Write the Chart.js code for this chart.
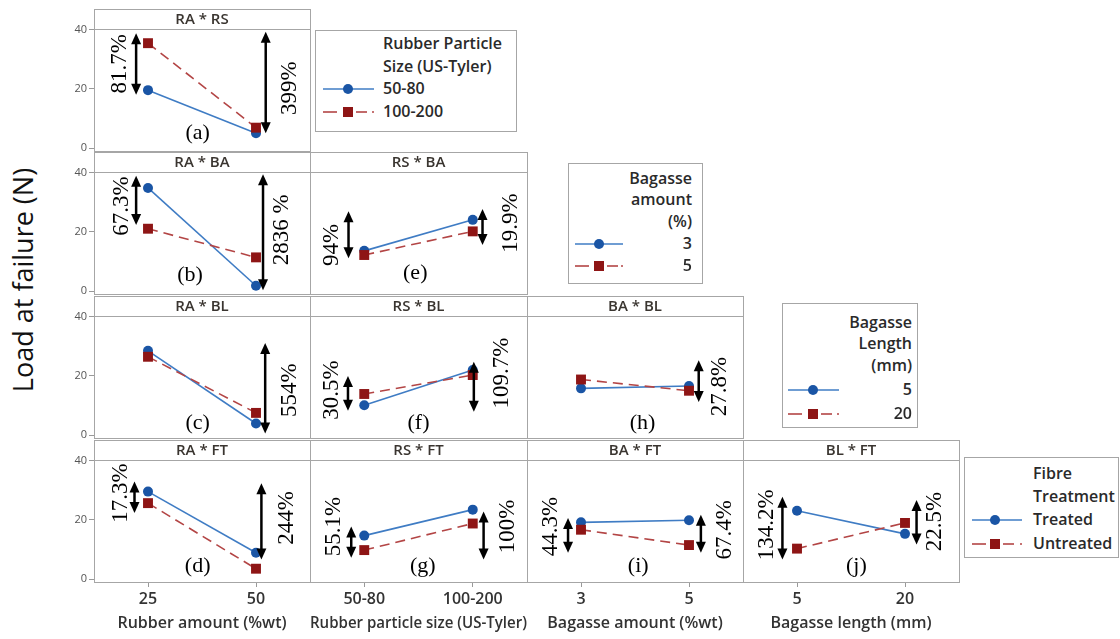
<!DOCTYPE html>
<html><head><meta charset="utf-8">
<script src="https://cdn.jsdelivr.net/npm/chart.js@4.4.1/dist/chart.umd.min.js"></script>
<style>
body{margin:0;background:#fff;}
#wrap{position:relative;width:1120px;height:639px;overflow:hidden;font-family:"Open Sans",sans-serif;background:#fff;}
#wrap canvas{position:absolute;}
.leg{position:absolute;border:1px solid #a6a6a6;background:#fff;box-sizing:border-box;}
.lt{position:absolute;font:600 16px "Open Sans",sans-serif;color:#2a2a2a;white-space:nowrap;transform:translateY(-50%);line-height:1;}
#ytitle{position:absolute;left:22px;top:280px;transform:translate(-50%,-50%) rotate(-90deg);font:400 27px "Open Sans",sans-serif;white-space:nowrap;color:#111;}
#samples{position:absolute;left:0;top:0;pointer-events:none;}
</style></head><body><div id="wrap"><div id="ytitle">Load at failure (N)</div></div>
<script>
// ---------- categories ----------
const catRA = ['25', '50'];
const catRS = ['50-80', '100-200'];
const catBA = ['3', '5'];
const catBL = ['5', '20'];
const yTicks = [0, 20, 40];
const xTitles = ['Rubber amount (%wt)', 'Rubber particle size (US-Tyler)', 'Bagasse amount (%wt)', 'Bagasse length (mm)'];

// ---------- series values (Load at failure, N) ----------
const a_RS_50_80 = [19.6, 5.0];
const a_RS_100_200 = [35.5, 6.9];
const b_BA_3 = [34.9, 1.8];
const b_BA_5 = [21.1, 11.4];
const e_BA_3 = [13.6, 24.1];
const e_BA_5 = [12.2, 20.2];
const c_BL_5 = [28.5, 3.9];
const c_BL_20 = [26.5, 7.5];
const f_BL_5 = [10.1, 22.0];
const f_BL_20 = [13.9, 20.3];
const h_BL_5 = [15.8, 16.6];
const h_BL_20 = [18.8, 15.0];
const d_FT_treated = [29.6, 8.9];
const d_FT_untreated = [25.7, 3.5];
const g_FT_treated = [14.7, 23.5];
const g_FT_untreated = [9.8, 18.8];
const i_FT_treated = [19.2, 19.9];
const i_FT_untreated = [16.7, 11.5];
const j_FT_treated = [23.1, 15.3];
const j_FT_untreated = [10.3, 19.0];

// ---------- percentage annotations: [x (category index), yTop, yBottom, label, labelX, labelY] ----------
const notes_a = [[-0.11, 38.9, 18.0, '81.7%', -0.26, 28.5], [1.09, 39.4, 5.0, '399%', 1.31, 20.3]];
const notes_b = [[-0.11, 39.0, 22.4, '67.3%', -0.24, 28.8], [1.065, 39.5, 0.3, '2836 %', 1.24, 20.7]];
const notes_e = [[-0.145, 27.0, 11.1, '94%', -0.30, 15.6], [1.09, 27.8, 15.6, '19.9%', 1.35, 23.0]];
const notes_c = [[1.085, 31.2, 0.5, '554%', 1.31, 15.2]];
const notes_f = [[-0.15, 20.0, 8.2, '30.5%', -0.30, 15.2], [1.01, 24.8, 7.9, '109.7%', 1.27, 21.0]];
const notes_h = [[1.09, 25.3, 11.2, '27.8%', 1.29, 16.4]];
const notes_d = [[-0.125, 33.0, 22.4, '17.3%', -0.25, 29.1], [1.05, 32.4, 6.6, '244%', 1.29, 20.7]];
const notes_g = [[-0.12, 17.8, 7.2, '55.1%', -0.28, 17.8], [1.10, 22.9, 6.6, '100%', 1.32, 17.8]];
const notes_i = [[-0.12, 20.7, 8.9, '44.3%', -0.28, 17.8], [1.11, 21.8, 8.9, '67.4%', 1.33, 16.7]];
const notes_j = [[-0.135, 27.9, 6.6, '134.2%', -0.28, 18.4], [1.107, 26.8, 11.7, '22.5%', 1.28, 19.5]];

// ---------- panel letters: [label, x, y] ----------
const tag_a = ['(a)', 0.46, 5.0];
const tag_b = ['(b)', 0.39, 5.4];
const tag_e = ['(e)', 0.47, 6.0];
const tag_c = ['(c)', 0.46, 4.0];
const tag_f = ['(f)', 0.50, 4.1];
const tag_h = ['(h)', 0.57, 4.1];
const tag_d = ['(d)', 0.46, 4.4];
const tag_g = ['(g)', 0.54, 4.4];
const tag_i = ['(i)', 0.53, 4.4];
const tag_j = ['(j)', 0.55, 4.4];

// ---------- layout / style ----------
const colLeft = [94, 310, 527, 743];
const colW = [216, 217, 216, 216];
const rowTop = [9, 152, 296, 440];
const STRIP = 20, PLOT_H = 122, YAX = 30, XAX = 56;
const BLUE_LINE = '#3f7cc4', BLUE_PT = '#1a55a5';
const RED_LINE = '#b34545', RED_PT = '#8e1515';
const FRAME = '#a6a6a6';

const panels = [
  {title: 'RA * RS', row: 0, col: 0, cats: catRA, s1: a_RS_50_80, s2: a_RS_100_200, notes: notes_a, tag: tag_a},
  {title: 'RA * BA', row: 1, col: 0, cats: catRA, s1: b_BA_3, s2: b_BA_5, notes: notes_b, tag: tag_b},
  {title: 'RS * BA', row: 1, col: 1, cats: catRS, s1: e_BA_3, s2: e_BA_5, notes: notes_e, tag: tag_e},
  {title: 'RA * BL', row: 2, col: 0, cats: catRA, s1: c_BL_5, s2: c_BL_20, notes: notes_c, tag: tag_c},
  {title: 'RS * BL', row: 2, col: 1, cats: catRS, s1: f_BL_5, s2: f_BL_20, notes: notes_f, tag: tag_f},
  {title: 'BA * BL', row: 2, col: 2, cats: catBA, s1: h_BL_5, s2: h_BL_20, notes: notes_h, tag: tag_h},
  {title: 'RA * FT', row: 3, col: 0, cats: catRA, s1: d_FT_treated, s2: d_FT_untreated, notes: notes_d, tag: tag_d},
  {title: 'RS * FT', row: 3, col: 1, cats: catRS, s1: g_FT_treated, s2: g_FT_untreated, notes: notes_g, tag: tag_g},
  {title: 'BA * FT', row: 3, col: 2, cats: catBA, s1: i_FT_treated, s2: i_FT_untreated, notes: notes_i, tag: tag_i},
  {title: 'BL * FT', row: 3, col: 3, cats: catBL, s1: j_FT_treated, s2: j_FT_untreated, notes: notes_j, tag: tag_j}
];

function drawArrow(ctx, x, y1, y2) {
  const hl = 11, hw = 5;
  ctx.strokeStyle = '#000'; ctx.fillStyle = '#000'; ctx.lineWidth = 2.5;
  ctx.beginPath(); ctx.moveTo(x, y1 + hl - 1); ctx.lineTo(x, y2 - hl + 1); ctx.stroke();
  ctx.beginPath(); ctx.moveTo(x, y1); ctx.lineTo(x - hw, y1 + hl); ctx.lineTo(x + hw, y1 + hl); ctx.closePath(); ctx.fill();
  ctx.beginPath(); ctx.moveTo(x, y2); ctx.lineTo(x - hw, y2 - hl); ctx.lineTo(x + hw, y2 - hl); ctx.closePath(); ctx.fill();
}

const decoPlugin = {
  id: 'deco',
  beforeDatasetsDraw(chart) {
    const {ctx, chartArea: ca} = chart;
    const p = chart.config.options.plugins.deco;
    ctx.save();
    ctx.lineWidth = 1; ctx.strokeStyle = FRAME;
    ctx.fillStyle = '#fff';
    ctx.fillRect(ca.left, ca.top - STRIP, ca.width, STRIP);
    ctx.strokeRect(Math.round(ca.left) + 0.5, Math.round(ca.top - STRIP) + 0.5, Math.round(ca.width), STRIP);
    ctx.strokeRect(Math.round(ca.left) + 0.5, Math.round(ca.top) + 0.5, Math.round(ca.width), Math.round(ca.height));
    ctx.fillStyle = '#3a3530';
    ctx.font = '600 15px "Open Sans", sans-serif';
    ctx.textAlign = 'center'; ctx.textBaseline = 'middle';
    ctx.fillText(p.title, (ca.left + ca.right) / 2, ca.top - STRIP / 2 + 1);
    ctx.restore();
  },
  afterDatasetsDraw(chart) {
    const {ctx} = chart;
    const xs = chart.scales.x, ys = chart.scales.y;
    const p = chart.config.options.plugins.deco;
    ctx.save();
    p.notes.forEach(n => {
      const x = xs.getPixelForValue(n[0]);
      drawArrow(ctx, x, ys.getPixelForValue(n[1]), ys.getPixelForValue(n[2]));
      ctx.save();
      ctx.translate(xs.getPixelForValue(n[4]), ys.getPixelForValue(n[5]));
      ctx.rotate(-Math.PI / 2);
      ctx.fillStyle = '#000';
      ctx.font = '23px "Liberation Serif", serif';
      ctx.textAlign = 'center'; ctx.textBaseline = 'middle';
      ctx.fillText(n[3], 0, 0);
      ctx.restore();
    });
    ctx.fillStyle = '#000';
    ctx.font = '22px "Liberation Serif", serif';
    ctx.textAlign = 'center'; ctx.textBaseline = 'middle';
    ctx.fillText(p.tag[0], xs.getPixelForValue(p.tag[1]), ys.getPixelForValue(p.tag[2]));
    ctx.restore();
  }
};

const wrap = document.getElementById('wrap');
panels.forEach(p => {
  const leftCol = p.col === 0, bottomRow = p.row === 3;
  const cv = document.createElement('canvas');
  const w = (leftCol ? YAX : 0) + colW[p.col] + 1;
  const h = STRIP + PLOT_H + (bottomRow ? XAX : 9);
  cv.width = w; cv.height = h;
  cv.style.left = (colLeft[p.col] - (leftCol ? YAX : 0)) + 'px';
  cv.style.top = rowTop[p.row] + 'px';
  cv.style.width = w + 'px'; cv.style.height = h + 'px';
  wrap.appendChild(cv);
  new Chart(cv, {
    type: 'line',
    data: {
      labels: p.cats,
      datasets: [
        {data: p.s1, borderColor: BLUE_LINE, backgroundColor: BLUE_PT, pointBackgroundColor: BLUE_PT, pointBorderColor: BLUE_PT,
         pointStyle: 'circle', pointRadius: 5, pointBorderWidth: 0, borderWidth: 1.6, tension: 0, order: 1},
        {data: p.s2, borderColor: RED_LINE, backgroundColor: RED_PT, pointBackgroundColor: RED_PT, pointBorderColor: RED_PT,
         pointStyle: 'rect', pointRadius: 7, pointBorderWidth: 0, borderWidth: 1.6, borderDash: [10, 6], tension: 0, order: 0}
      ]
    },
    options: {
      responsive: false, animation: false, devicePixelRatio: 1,
      layout: {autoPadding: false, padding: {top: STRIP, right: 1, left: 0, bottom: bottomRow ? 0 : 9}},
      plugins: {legend: {display: false}, tooltip: {enabled: false}, title: {display: false},
        deco: {title: p.title, notes: p.notes, tag: p.tag}},
      scales: {
        x: {
          type: 'category', offset: true, display: bottomRow,
          grid: {drawOnChartArea: false, drawTicks: true, tickLength: 5, color: '#999'},
          border: {display: false},
          ticks: {font: {family: '"Open Sans", sans-serif', size: 16, weight: '600'}, color: '#333', padding: 3, maxRotation: 0, autoSkip: false},
          title: {display: bottomRow, text: xTitles[p.col], font: {family: '"Open Sans", sans-serif', size: 16, weight: '600'}, color: '#333', padding: {top: 0, bottom: 5}},
          afterFit: s => { s.height = bottomRow ? XAX : 0; s.paddingLeft = 0; s.paddingRight = 0; }
        },
        y: {
          type: 'linear', min: -1, max: 40.3, display: leftCol,
          grid: {drawOnChartArea: false, drawTicks: true, tickLength: 5, color: '#999'},
          border: {display: false},
          afterBuildTicks: s => { s.ticks = yTicks.map(v => ({value: v})); },
          ticks: {font: {family: '"Open Sans", sans-serif', size: 11}, color: '#555', padding: 2},
          afterFit: s => { s.width = leftCol ? YAX : 0; s.paddingTop = 0; s.paddingBottom = 0; }
        }
      }
    },
    plugins: [decoPlugin]
  });
});

// ---------- legends ----------
const legends = [
  {box: [315, 30, 202, 102], align: 'left', tx: 383, lines: [['Rubber Particle', 43], ['Size (US-Tyler)', 66], ['50-80', 88], ['100-200', 111]], s: [323, 374, 348]},
  {box: [568, 163, 135, 121], align: 'right', tx: 692, lines: [['Bagasse', 178], ['amount', 199], ['(%)', 221], ['3', 243], ['5', 265]], s: [575, 623, 599]},
  {box: [782, 303, 136, 125], align: 'right', tx: 912, lines: [['Bagasse', 322], ['Length', 343], ['(mm)', 365], ['5', 389], ['20', 413]], s: [788, 839, 813]},
  {box: [964, 457, 155, 101], align: 'left', tx: 1033, lines: [['Fibre', 473], ['Treatment', 496], ['Treated', 519], ['Untreated', 543]], s: [972, 1022, 995]}
];
const svgNS = 'http://www.w3.org/2000/svg';
const svg = document.createElementNS(svgNS, 'svg');
svg.setAttribute('id', 'samples'); svg.setAttribute('width', 1120); svg.setAttribute('height', 639);
function el(tag, attrs) { const e = document.createElementNS(svgNS, tag); for (const k in attrs) e.setAttribute(k, attrs[k]); svg.appendChild(e); return e; }
legends.forEach(L => {
  const b = document.createElement('div');
  b.className = 'leg';
  b.style.left = L.box[0] + 'px'; b.style.top = L.box[1] + 'px';
  b.style.width = L.box[2] + 'px'; b.style.height = L.box[3] + 'px';
  wrap.appendChild(b);
  L.lines.forEach(([t, y]) => {
    const s = document.createElement('span');
    s.className = 'lt'; s.textContent = t;
    s.style.top = y + 'px';
    if (L.align === 'left') s.style.left = L.tx + 'px'; else s.style.right = (1120 - L.tx) + 'px';
    wrap.appendChild(s);
  });
  const n = L.lines.length;
  const yb = L.lines[n - 2][1] + 1, yr = L.lines[n - 1][1] + 1;
  const [x0, x1, xm] = L.s;
  el('line', {x1: x0, y1: yb, x2: x1, y2: yb, stroke: BLUE_LINE, 'stroke-width': 1.6});
  el('circle', {cx: xm, cy: yb, r: 5, fill: BLUE_PT});
  el('line', {x1: x0, y1: yr, x2: x0 + 14, y2: yr, stroke: RED_LINE, 'stroke-width': 1.6});
  el('line', {x1: xm + 8, y1: yr, x2: xm + 19, y2: yr, stroke: RED_LINE, 'stroke-width': 1.6});
  el('line', {x1: x1 - 2, y1: yr, x2: x1, y2: yr, stroke: RED_LINE, 'stroke-width': 1.6});
  el('rect', {x: xm - 5, y: yr - 5, width: 10, height: 10, fill: RED_PT});
});
wrap.appendChild(svg);
</script></body></html>
